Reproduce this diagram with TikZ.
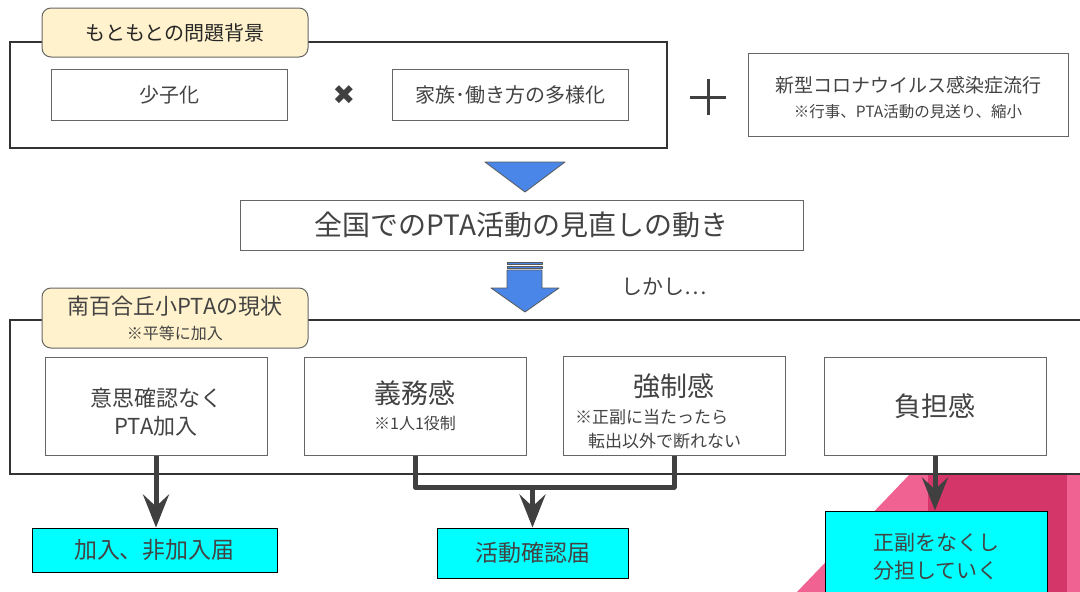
\documentclass[tikz,border=0pt]{standalone}
\usepackage{fontspec}
\setmainfont{Noto Sans CJK JP}
\newfontfamily\symfont{DejaVu Sans}
\usetikzlibrary{arrows.meta,positioning,calc}

\definecolor{txtgray}{HTML}{434343}
\definecolor{linegray}{HTML}{666666}
\definecolor{tabfill}{HTML}{FFF2CC}
\definecolor{arrowblue}{HTML}{4A86E8}
\definecolor{outcyan}{HTML}{00FFFF}
\definecolor{pinklight}{HTML}{F06292}
\definecolor{pinkdark}{HTML}{D43669}

\tikzstyle{frame} = [rectangle, draw=black!80, line width=1.3pt, fill=white]
\tikzstyle{tab} = [rectangle, rounded corners=9pt, draw=black!60, line width=1pt, fill=tabfill, align=center]
\tikzstyle{cause} = [rectangle, draw=linegray, line width=1pt, fill=white, text=txtgray, minimum width=236pt, minimum height=51pt, font=\fontsize{20}{24}\selectfont]
\tikzstyle{feel} = [cause, minimum width=222pt, minimum height=98pt, align=center]
\tikzstyle{result} = [rectangle, draw=black, line width=1pt, fill=outcyan, text=txtgray, font=\fontsize{23}{28}\selectfont, align=center]
\tikzstyle{arrow} = [line width=5pt, draw=black!75, -{Stealth[length=33pt,width=26pt,inset=12pt]}]
\tikzstyle{link} = [line width=5pt, draw=black!75, line join=round]
\tikzstyle{bigarrow} = [fill=arrowblue, draw=black!65, line width=0.8pt, line join=round]

\begin{document}
\begin{tikzpicture}[x=1pt, y=-1pt]
\useasboundingbox (0,0) rectangle (1080,592);

% corner decoration
\fill[pinklight] (797,592) -- (910,474) -- (1080,474) -- (1080,592) -- cycle;
\fill[pinkdark] (928,474) rectangle (1067,592);

% background of the problem
\node (origin) [frame, minimum width=657pt, minimum height=106pt] at (338.5,95) {};
\node (origintab) [tab, minimum width=266pt, minimum height=49pt, text=black!85, font=\fontsize{20}{24}\selectfont] at (175,32.5) {もともとの問題背景};
\node (kids) [cause] at (169,94.5) {少子化};
\node (times) [text=black!75, font=\symfont\fontsize{27}{30}\selectfont] at (344,95) {✖};
\node (family) [cause, right=104pt of kids] {家族･働き方の多様化};
\coordinate (plus) at (708,97);
\draw[black!75, line width=3pt] ($(plus)+(-18,0)$) -- ($(plus)+(18,0)$) ($(plus)+(0,-18)$) -- ($(plus)+(0,18)$);
\node (covid) [cause, minimum width=320pt, minimum height=83pt, align=center, font=\fontsize{19}{25}\selectfont] at (908,94.5) {\rule{0pt}{22pt}新型コロナウイルス感染症流行\\{\fontsize{15.5}{25}\selectfont ※行事、PTA活動の見送り、縮小}};

\draw[bigarrow] (485,162) -- (565,162) -- (525,192) -- cycle;

\node (review) [cause, minimum width=563pt, minimum height=50pt, font=\fontsize{28}{32}\selectfont] at (521.5,225) {全国でのPTA活動の見直しの動き};

% striped arrow
\draw[bigarrow] (507,262) rectangle (542,264.5);
\draw[bigarrow] (507,266.5) rectangle (542,268.5);
\draw[bigarrow] (507,270) -- (542,270) -- (542,288) -- (559,288) -- (525,312) -- (491,288) -- (507,288) -- cycle;
\node (however) [text=txtgray, font=\fontsize{21}{24}\selectfont] at (664,287) {しかし…};

% present state
\node (now) [frame, minimum width=1080pt, minimum height=154pt] at (550,397) {};
\node (nowtab) [tab, minimum width=266pt, minimum height=60pt, text=txtgray, font=\fontsize{22}{25}\selectfont] at (175,318) {南百合丘小PTAの現状\\{\fontsize{16}{25}\selectfont ※平等に加入}};

\node (noconsent) [feel, font=\fontsize{22}{28}\selectfont] at (156,406) {\rule{0pt}{30pt}意思確認なく\\PTA加入};
\node (duty) [feel, right=36pt of noconsent, font=\fontsize{27}{26}\selectfont] {義務感\\{\fontsize{16}{26}\selectfont ※1人1役制}};
\node (force) [feel, right=36pt of duty, inner sep=0pt, font=\fontsize{27}{27}\selectfont] {\rule{0pt}{40pt}強制感\\{\fontsize{17}{24}\selectfont\begin{tabular}[t]{@{}l@{}}※正副に当たったら\\\hspace{13pt}転出以外で断れない\end{tabular}\hspace*{32pt}}};
\node (burden) [feel, right=38pt of force, font=\fontsize{27}{30}\selectfont] {負担感};

\node (form) [result, minimum width=245pt, minimum height=44pt] at (154.5,550) {加入、非加入届};
\node (check) [result, minimum width=191pt, minimum height=50pt] at (532.5,553) {活動確認届};
\node (share) [result, minimum width=222pt, minimum height=91pt, font=\fontsize{21}{28}\selectfont] at (936,556.5) {正副をなくし\\分担していく};

%arrows
\coordinate (merge) at (check.north |- 0,487);
\draw [arrow] (noconsent.south) -- (noconsent.south |- form.north);
\draw [link] (duty.south) |- (merge) -| (force.south);
\draw [arrow] (merge) -- (check.north);
\draw [arrow] (burden.south) -- (burden.south |- share.north);
\end{tikzpicture}
\end{document}
